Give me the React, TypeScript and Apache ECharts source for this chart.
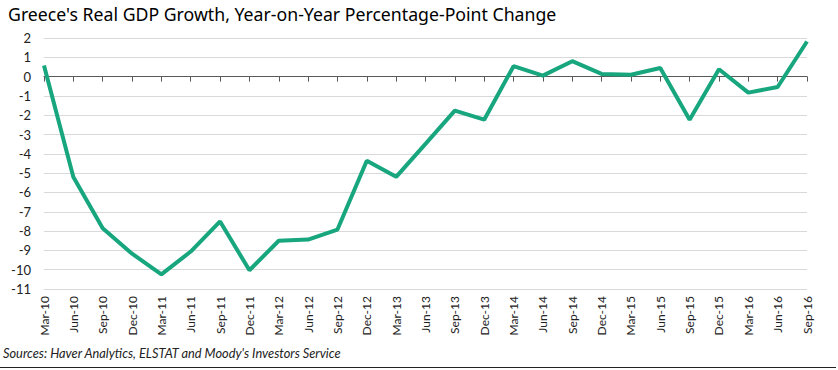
import React, { useEffect, useRef } from "react";
import * as echarts from "echarts";

const categories = [
  "Mar-10", "Jun-10", "Sep-10", "Dec-10", "Mar-11", "Jun-11", "Sep-11", "Dec-11",
  "Mar-12", "Jun-12", "Sep-12", "Dec-12", "Mar-13", "Jun-13", "Sep-13", "Dec-13",
  "Mar-14", "Jun-14", "Sep-14", "Dec-14", "Mar-15", "Jun-15", "Sep-15", "Dec-15",
  "Mar-16", "Jun-16", "Sep-16",
];
const gdpChange = [
  0.57, -5.2, -7.85, -9.17, -10.24, -9.06, -7.5, -10.03,
  -8.5, -8.44, -7.92, -4.36, -5.19, -3.48, -1.76, -2.23,
  0.54, 0.05, 0.8, 0.14, 0.1, 0.45, -2.23, 0.38,
  -0.83, -0.54, 1.82,
];
const titleText = "Greece's Real GDP Growth, Year-on-Year Percentage-Point Change";
const sourceText = "Sources: Haver Analytics, ELSTAT and Moody's Investors Service";

export default function App() {
  const ref = useRef<HTMLDivElement>(null);
  useEffect(() => {
    if (!ref.current) return;
    const chart = echarts.init(ref.current, null, { renderer: "svg" });
    chart.setOption({
      animation: false,
      backgroundColor: "#ffffff",
      title: {
        text: titleText,
        left: 3,
        top: 0,
        textStyle: { fontFamily: "Noto Sans", fontSize: 17.7, fontWeight: "normal", color: "#000" },
      },
      grid: { left: 44, right: 31, top: 38, bottom: 81 },
      xAxis: [
        {
          type: "category",
          data: categories,
          boundaryGap: false,
          position: "bottom",
          axisLine: { show: false, onZero: false },
          axisTick: { show: false },
          axisLabel: {
            rotate: 90,
            margin: 7,
            interval: 0,
            fontFamily: "Lato",
            fontSize: 12,
            color: "#222",
          },
          splitLine: { show: false },
        },
        {
          type: "category",
          data: categories,
          boundaryGap: false,
          position: "bottom",
          axisLine: { show: true, onZero: true, lineStyle: { color: "#595959", width: 1 } },
          axisTick: { show: true, interval: 0, length: 5, lineStyle: { color: "#595959" } },
          axisLabel: { show: false },
          splitLine: { show: false },
        },
      ],
      yAxis: {
        type: "value",
        min: -11,
        max: 2,
        interval: 1,
        axisLine: { show: false },
        axisTick: { show: false },
        axisLabel: { fontFamily: "Lato", fontSize: 13, color: "#222", margin: 13 },
        splitLine: { show: true, lineStyle: { color: "#d9d9d9", width: 1 } },
      },
      series: [
        {
          type: "line",
          data: gdpChange,
          xAxisIndex: 0,
          showSymbol: false,
          symbol: "none",
          lineStyle: { color: "#17a67e", width: 4 },
          z: 5,
        },
      ],
      graphic: [
        {
          type: "text",
          left: 3,
          top: 346,
          style: {
            text: sourceText,
            fontFamily: "Lato",
            fontStyle: "italic",
            fontSize: 12.8,
            fill: "#222",
          },
        },
        {
          type: "line",
          shape: { x1: 0, y1: 367.5, x2: 836, y2: 367.5 },
          style: { stroke: "#222", lineWidth: 1 },
        },
      ],
    });
    return () => chart.dispose();
  }, []);
  return (
    <div
      ref={ref}
      style={{ position: "absolute", left: 0, top: 0, width: 838, height: 370 }}
    />
  );
}
